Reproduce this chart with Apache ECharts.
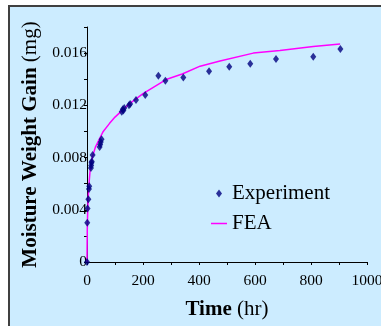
<!DOCTYPE html>
<html>
<head>
<meta charset="utf-8">
<script src="https://cdn.jsdelivr.net/npm/echarts@6/dist/echarts.min.js"></script>
<style>
  html, body { margin: 0; padding: 0; background: #fff; overflow: hidden; }
  #wrap { position: relative; width: 381px; height: 326px; overflow: hidden; }
  #frame { position: absolute; left: 8px; top: 5px; width: 600px; height: 600px;
           background: #ccecff; border: 2px solid #404040; box-sizing: border-box; }
  #chart { position: absolute; left: 0; top: 0; width: 381px; height: 326px; }
</style>
</head>
<body>
<div id="wrap">
  <div id="frame"></div>
  <div id="chart"></div>
</div>
<script>
// measured data (hours, mg)
const expTime = [0, 1, 2, 5, 7, 8, 14, 15, 16, 17, 20, 45, 47, 49, 52,
  124, 128, 130, 133, 150, 154, 175, 208, 255, 280, 344, 436, 508, 583, 675, 808, 905];
const expGain = [0, 0.0030, 0.0041, 0.0048, 0.0056, 0.0058, 0.0072, 0.0074, 0.0076, 0.0077, 0.0082,
  0.0088, 0.0090, 0.0092, 0.0094, 0.0115, 0.0117, 0.0116, 0.0118, 0.0120, 0.0121, 0.0124, 0.0128,
  0.01426, 0.01388, 0.01414, 0.01462, 0.01495, 0.01518, 0.01554, 0.01572, 0.01631];

const feaTime = [0, 0.5, 1, 2, 3, 5, 8, 11, 15, 20, 30, 46, 58, 80, 100, 120, 150, 200,
  250, 285, 340, 404, 475, 594, 689, 808, 904];
const feaGain = [0, 0.0015, 0.0025, 0.0035, 0.0042, 0.0052, 0.0062, 0.0070, 0.0076, 0.0081,
  0.0088, 0.0095, 0.0100, 0.0106, 0.0111, 0.0115, 0.0121, 0.0129, 0.01355, 0.0140, 0.0144,
  0.0150, 0.0154, 0.0160, 0.0162, 0.0165, 0.0167];

const xTicks = [0, 200, 400, 600, 800, 1000];
const yTicks = [0, 0.004, 0.008, 0.012, 0.016];

const serif = '"Liberation Serif", "Times New Roman", serif';

const chart = echarts.init(document.getElementById('chart'));

chart.setOption({
  backgroundColor: 'transparent',
  animation: false,
  textStyle: { fontFamily: serif, color: '#000' },
  grid: { left: 87, right: 14, top: 27, bottom: 64, outerBoundsMode: 'none' },
  legend: {
    orient: 'vertical',
    left: 206,
    top: 178,
    itemWidth: 16,
    itemHeight: 8,
    itemGap: 9,
    textStyle: { fontFamily: serif, fontSize: 21, color: '#000' },
    data: [
      { name: 'Experiment', icon: 'path://M3,0L6,4L3,8L0,4Z' },
      { name: 'FEA', icon: 'path://M0,0L16,0L16,1.5L0,1.5Z' }
    ]
  },
  xAxis: {
    type: 'value',
    min: 0,
    max: 1000,
    interval: 100,
    name: '{b|Time} (hr)',
    nameLocation: 'middle',
    nameGap: 37,
    nameTextStyle: {
      fontFamily: serif, fontSize: 21, color: '#000',
      rich: { b: { fontFamily: serif, fontSize: 21, fontWeight: 'bold', color: '#000' } }
    },
    splitLine: { show: false },
    axisLine: { lineStyle: { color: '#000', width: 1 } },
    axisTick: { length: 3, lineStyle: { color: '#000' } },
    axisLabel: {
      margin: 11,
      fontFamily: serif,
      fontSize: 15.5,
      color: '#000',
      formatter: v => xTicks.includes(v) ? String(v) : ''
    }
  },
  yAxis: {
    type: 'value',
    min: 0,
    max: 0.018,
    interval: 0.002,
    name: '{b|Moisture Weight Gain} (mg)',
    nameLocation: 'middle',
    nameRotate: 90,
    nameGap: 38,
    nameTextStyle: {
      fontFamily: serif, fontSize: 21, color: '#000',
      rich: { b: { fontFamily: serif, fontSize: 21, fontWeight: 'bold', color: '#000' } }
    },
    splitLine: { show: false },
    axisLine: { show: true, lineStyle: { color: '#000', width: 1 } },
    axisTick: { show: true, length: 3, lineStyle: { color: '#000' } },
    axisLabel: {
      margin: 0,
      fontFamily: serif,
      fontSize: 15.5,
      color: '#000',
      formatter: v => {
        const hit = yTicks.find(t => Math.abs(t - v) < 1e-9);
        if (hit === undefined) return '';
        return hit === 0 ? '0' : hit.toFixed(3);
      }
    }
  },
  series: [
    {
      name: 'Experiment',
      type: 'scatter',
      symbol: 'diamond',
      symbolSize: [6, 8],
      itemStyle: { color: '#000080' },
      z: 3,
      data: expTime.map((t, i) => [t, expGain[i]])
    },
    {
      name: 'FEA',
      type: 'line',
      symbol: 'none',
      showSymbol: false,
      lineStyle: { color: '#ff00ff', width: 1.5 },
      itemStyle: { color: '#ff00ff' },
      z: 2,
      data: feaTime.map((t, i) => [t, feaGain[i]])
    }
  ]
});
</script>
</body>
</html>
